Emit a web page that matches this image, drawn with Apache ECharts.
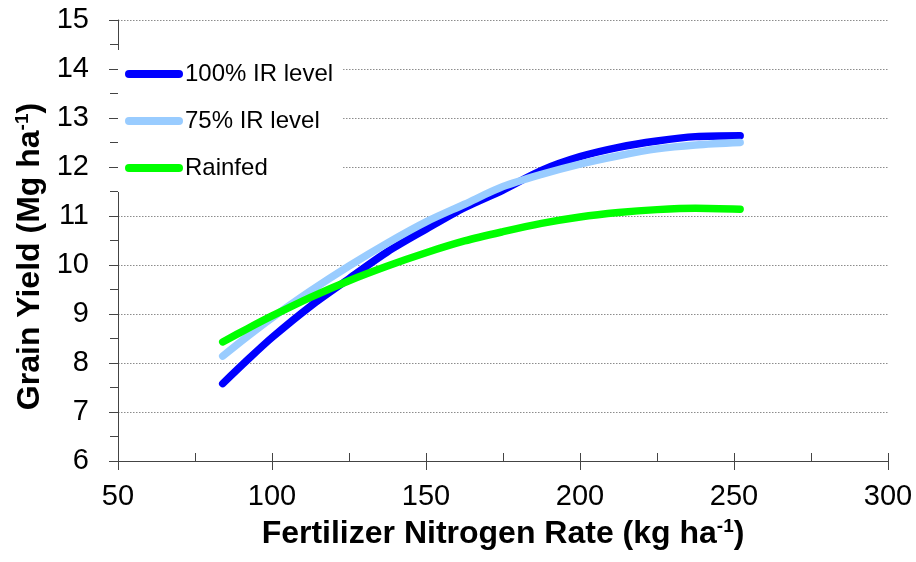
<!DOCTYPE html>
<html>
<head>
<meta charset="utf-8">
<script src="https://cdn.jsdelivr.net/npm/echarts@6/dist/echarts.min.js"></script>
<style>
html,body{margin:0;padding:0;background:#fff;}
#chart{width:916px;height:562px;}
</style>
</head>
<body>
<div id="chart"></div>
<script>
// Data
const nRates = [84, 92, 100, 112.5, 125, 137.5, 150, 162.5, 175, 187.5, 200, 212.5, 225, 237.5, 252];
const ir100 = [7.58, 8.06, 8.52, 9.16, 9.72, 10.27, 10.73, 11.17, 11.53, 11.93, 12.21, 12.40, 12.53, 12.62, 12.64];
const ir75 = [8.14, 8.54, 8.92, 9.47, 9.98, 10.45, 10.88, 11.24, 11.60, 11.85, 12.06, 12.23, 12.37, 12.45, 12.50];
const rainfed = [8.43, 8.70, 8.96, 9.34, 9.68, 9.98, 10.25, 10.49, 10.68, 10.85, 10.98, 11.07, 11.13, 11.16, 11.14];
const seriesNames = ['100% IR level', '75% IR level', 'Rainfed'];
const seriesColors = ['#0000FF', '#99CCFF', '#00FF00'];
const xTicks = [50, 100, 150, 200, 250, 300];
const yTicks = [6, 7, 8, 9, 10, 11, 12, 13, 14, 15];

const FONT = '"Liberation Sans", Arial, sans-serif';
const pairs = (ys) => nRates.map((x, i) => [x, ys[i]]);
const capsule = 'path://M4,0H54A4,4,0,0,1,54,8H4A4,4,0,0,1,4,0Z';

const chart = echarts.init(document.getElementById('chart'), null, {renderer: 'canvas'});
const richTitle = {
  a: {fontSize: 32, fontWeight: 'bold', fontFamily: FONT, color: '#000', lineHeight: 34},
  s: {fontSize: 19, fontWeight: 'bold', fontFamily: FONT, color: '#000', lineHeight: 19, verticalAlign: 'top'}
};
const option = {
  animation: false,
  backgroundColor: '#fff',
  grid: {left: 118, right: 28, top: 20, bottom: 101, containLabel: false},
  legend: {
    orient: 'vertical',
    left: 118, top: 50,
    padding: [12, 10, 12, 7],
    backgroundColor: '#fff',
    itemWidth: 58, itemHeight: 8,
    itemGap: 23,
    icon: capsule,
    textStyle: {fontSize: 24, fontFamily: FONT, color: '#000', lineHeight: 24, padding: [0, 0, 0, -3]},
    data: seriesNames
  },
  xAxis: [{
    type: 'value', min: xTicks[0], max: xTicks[xTicks.length - 1], interval: 50,
    name: '{a|Fertilizer Nitrogen Rate (kg ha}{s|-1}{a|)}',
    nameLocation: 'middle', nameGap: 56,
    nameTextStyle: {rich: richTitle},
    axisLine: {show: true, lineStyle: {color: '#444', width: 1}},
    axisTick: {show: true, inside: false, length: 9, lineStyle: {color: '#444'}},
    axisLabel: {fontSize: 29, fontFamily: FONT, color: '#000', margin: 21},
    splitLine: {show: false}
  }, {
    type: 'value', min: 50, max: 300, interval: 25, position: 'bottom',
    axisLine: {show: false},
    axisTick: {show: true, inside: true, length: 8, lineStyle: {color: '#444'}},
    axisLabel: {show: false},
    splitLine: {show: false}
  }],
  yAxis: {
    type: 'value', min: yTicks[0], max: yTicks[yTicks.length - 1], interval: 1,
    name: '{a|Grain Yield (Mg ha}{s|-1}{a|)}',
    nameLocation: 'middle', nameGap: 71,
    nameTextStyle: {rich: richTitle, padding: [0, 32, 0, 0]},
    axisLine: {show: true, lineStyle: {color: '#444', width: 1}},
    axisTick: {show: true, inside: false, length: 9, lineStyle: {color: '#444'}},
    minorTick: {show: true, splitNumber: 2, length: 8, lineStyle: {color: '#444'}},
    axisLabel: {fontSize: 29, fontFamily: FONT, color: '#000', margin: 29},
    splitLine: {show: true, lineStyle: {color: '#8c8c8c', width: 1, type: [1.5, 1.5]}}
  },
  series: [ir100, ir75, rainfed].map((ys, i) => ({
    name: seriesNames[i],
    type: 'line',
    data: pairs(ys),
    smooth: 0.3,
    showSymbol: false,
    symbol: 'none',
    color: seriesColors[i],
    z: 3 + i,
    lineStyle: {width: 7.5, color: seriesColors[i], cap: 'round', join: 'round'}
  }))
};
chart.setOption(option);
</script>
</body>
</html>
